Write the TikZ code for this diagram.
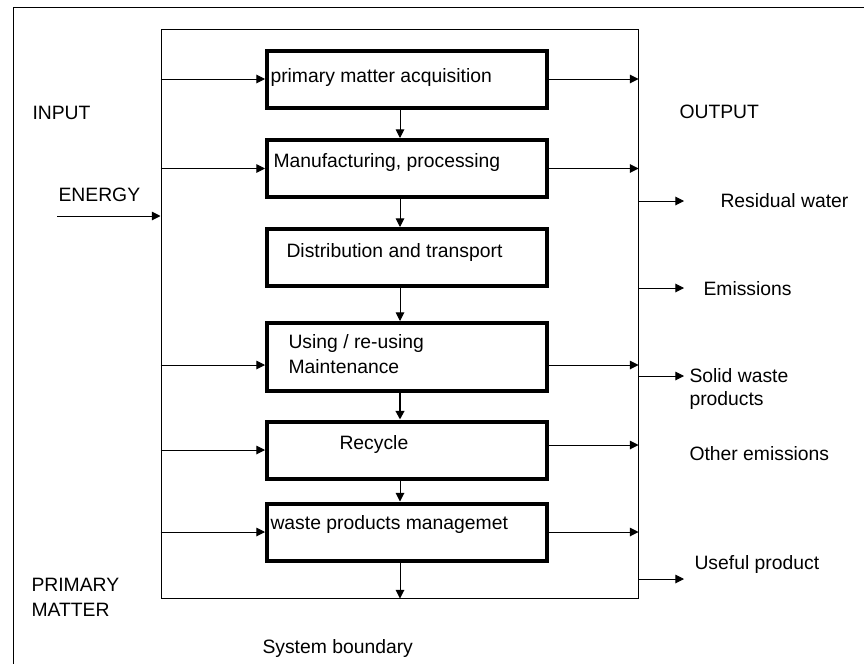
\documentclass[tikz,border=0pt]{standalone}
\usepackage{fontspec}
\setmainfont{Liberation Sans}
\usetikzlibrary{arrows.meta}

\tikzset{every picture/.style={line width=0.75pt}}
\tikzset{
  stagebox/.style={draw, line width=3pt, minimum width=210pt, minimum height=42.75pt, inner sep=0pt},
  boundary/.style={draw, minimum width=357.75pt, minimum height=426.75pt, inner sep=0pt},
  txt/.style={anchor=base west, inner sep=0pt, font=\fontsize{14.5}{17}\selectfont},
  flow/.style={-{Triangle[length=6.5pt,width=6.5pt]}}
}

\begin{document}
\begin{tikzpicture}[x=0.75pt,y=0.75pt,yscale=-1,xscale=1]
\useasboundingbox (0,0) rectangle (864,664);

%Shape: Frame
\draw (13,664) -- (13,7) -- (864,7) ;

%Shape: System boundary
\node [boundary] (sb) at (399.5,313.5) {};

%Shape: Stages
\node [stagebox] (b1) at (407,79) {};
\node [stagebox] (b2) at (407,168.5) {};
\node [stagebox] (b3) at (407,257.5) {};
\node [stagebox, minimum height=51pt] (b4) at (407,357) {};
\node [stagebox] (b5) at (407,450) {};
\node [stagebox] (b6) at (407,532) {};

% Text Node
\node [txt] (t1) at (270,82) {primary matter acquisition};
\node [txt] (t2) at (273,167) {Manufacturing, processing};
\node [txt] (t3) at (286,257) {Distribution and transport};
\node [txt] (t4) at (288,348) {Using / re-using};
\node [txt] (t4b) at (288,373) {Maintenance};
\node [txt] (t5) at (339,449) {Recycle};
\node [txt] (t6) at (270,529) {waste products managemet};

% Text Node
\node [txt] (input) at (32,119) {INPUT};
\node [txt] (energy) at (58,201) {ENERGY};
\node [txt] (output) at (679,118) {OUTPUT};
\node [txt] (primary) at (31,591) {PRIMARY};
\node [txt] (matter) at (31,616) {MATTER};
\node [txt] (sblabel) at (262,653) {System boundary};

\node [txt] (resid) at (720,207) {Residual water};
\node [txt] (emis) at (703,295) {Emissions};
\node [txt] (solid) at (689,382) {Solid waste};
\node [txt] (solidb) at (689,405) {products};
\node [txt] (other) at (689,460) {Other emissions};
\node [txt] (useful) at (694,569) {Useful product};

%Straight Lines: chain of stages
\coordinate (axis) at (400,0);
\draw [flow] (b1.south -| axis) -- (b2.north -| axis) ;
\draw [flow] (b2.south -| axis) -- (b3.north -| axis) ;
\draw [flow] (b3.south -| axis) -- (b4.north -| axis) ;
\draw [flow, line width=1.5pt] (b4.south -| axis) -- (b5.north -| axis) ;
\draw [flow] (b5.south -| axis) -- (b6.north -| axis) ;
\draw [flow] (b6.south -| axis) -- (sb.south -| axis) ;

%Straight Lines: inputs
\coordinate (en) at (57,216);
\draw [flow] (en) -- (sb.west |- en) ;
\draw [flow] (sb.west |- b1.west) -- (b1.west) ;
\draw [flow] (sb.west |- b2.west) -- (b2.west) ;
\draw [flow] ([yshift=6pt]sb.west |- b4.west) -- ([yshift=6pt]b4.west) ;
\draw [flow] (sb.west |- b5.west) -- (b5.west) ;
\draw [flow] (sb.west |- b6.west) -- (b6.west) ;

%Straight Lines: outputs
\draw [flow] (b1.east) -- (sb.east |- b1.east) ;
\draw [flow] (b2.east) -- (sb.east |- b2.east) ;
\draw [flow] ([yshift=6pt]b4.east) -- ([yshift=6pt]sb.east |- b4.east) ;
\draw [flow] ([yshift=-3.75pt]b5.east) -- ([yshift=-3.75pt]sb.east |- b5.east) ;
\draw [flow] (b6.east) -- (sb.east |- b6.east) ;

%Straight Lines: leaving the system
\coordinate (o1) at (684,201);
\coordinate (o2) at (684,288);
\coordinate (o3) at (684,376);
\coordinate (o4) at (684,579);
\draw [flow] (sb.east |- o1) -- (o1) ;
\draw [flow] (sb.east |- o2) -- (o2) ;
\draw [flow] (sb.east |- o3) -- (o3) ;
\draw [flow] (sb.east |- o4) -- (o4) ;

\end{tikzpicture}
\end{document}
